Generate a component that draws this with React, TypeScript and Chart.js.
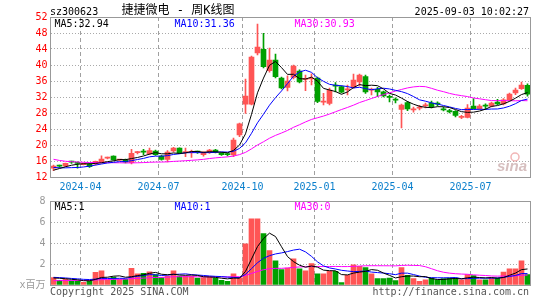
import React, { useEffect, useRef } from "react";
import { Chart, registerables } from "chart.js";

Chart.register(...registerables);

// ---------- data ----------
const weeks = [
  "2024-03-01", "2024-03-08", "2024-03-15", "2024-03-22", "2024-03-29",
  "2024-04-03", "2024-04-12", "2024-04-19", "2024-04-26", "2024-04-30",
  "2024-05-10", "2024-05-17", "2024-05-24", "2024-05-31", "2024-06-07",
  "2024-06-14", "2024-06-21", "2024-06-28", "2024-07-05", "2024-07-12",
  "2024-07-19", "2024-07-26", "2024-08-02", "2024-08-09", "2024-08-16",
  "2024-08-23", "2024-08-30", "2024-09-06", "2024-09-13", "2024-09-20",
  "2024-09-27", "2024-09-30", "2024-10-11", "2024-10-18", "2024-10-25",
  "2024-11-01", "2024-11-08", "2024-11-15", "2024-11-22", "2024-11-29",
  "2024-12-06", "2024-12-13", "2024-12-20", "2024-12-27", "2025-01-03",
  "2025-01-10", "2025-01-17", "2025-01-24", "2025-01-27", "2025-02-07",
  "2025-02-14", "2025-02-21", "2025-02-28", "2025-03-07", "2025-03-14",
  "2025-03-21", "2025-03-28", "2025-04-03", "2025-04-11", "2025-04-18",
  "2025-04-25", "2025-04-30", "2025-05-09", "2025-05-16", "2025-05-23",
  "2025-05-30", "2025-06-06", "2025-06-13", "2025-06-20", "2025-06-27",
  "2025-07-04", "2025-07-11", "2025-07-18", "2025-07-25", "2025-08-01",
  "2025-08-08", "2025-08-15", "2025-08-22", "2025-08-29", "2025-09-03",
];

const opens = [
  14.2, 14.8, 14.75, 15.8, 15.5, 15.1, 15.25, 15.25, 15.6, 16.7,
  17.25, 16.2, 16.3, 15.6, 18.1, 18.3, 17.75, 18.5, 17.25, 16.4,
  18.5, 19.25, 18.1, 18.1, 18.3, 17.6, 18.1, 18.75, 18.0, 17.7,
  17.5, 22.5, 30.2, 30.2, 43.0, 43.9, 38.6, 41.2, 36.7, 34.4,
  36.9, 38.5, 36.4, 36.5, 36.75, 30.7, 30.4, 34.8, 34.6, 33.8,
  34.4, 35.8, 37.1, 33.7, 33.9, 33.3, 32.0, 31.3, 28.9, 30.6,
  28.8, 29.2, 29.8, 30.5, 30.3, 29.0, 28.6, 28.4, 26.9, 26.9,
  29.7, 29.1, 29.8, 29.7, 30.75, 30.3, 31.3, 33.0, 34.1, 34.9,
];
const highs = [
  15.0, 15.0, 15.5, 16.0, 15.8, 15.5, 15.4, 16.0, 17.3, 17.0,
  17.3, 16.4, 16.5, 18.9, 18.4, 18.9, 19.2, 18.7, 17.4, 18.6,
  19.4, 19.3, 19.25, 18.75, 18.5, 18.3, 18.9, 18.9, 18.1, 17.9,
  21.7, 25.5, 36.5, 42.2, 50.25, 47.9, 44.2, 42.75, 37.0, 37.3,
  40.0, 38.8, 37.5, 37.8, 37.0, 32.9, 34.2, 35.6, 34.8, 35.0,
  37.75, 37.75, 37.5, 34.2, 34.4, 33.5, 32.5, 31.8, 30.2, 30.9,
  29.5, 29.9, 30.5, 31.0, 30.8, 29.5, 28.9, 28.6, 27.4, 30.1,
  31.6, 30.1, 30.3, 30.7, 31.4, 31.6, 33.0, 34.2, 35.75, 35.3,
];
const lows = [
  13.6, 14.4, 14.6, 15.4, 14.2, 15.0, 14.4, 15.0, 15.5, 16.5,
  16.2, 16.0, 15.5, 15.3, 17.8, 17.6, 17.6, 17.4, 16.2, 15.8,
  18.3, 17.9, 17.1, 16.9, 17.9, 17.2, 17.9, 18.0, 17.4, 17.3,
  17.1, 22.1, 27.9, 30.0, 42.5, 39.3, 38.2, 36.8, 34.0, 33.5,
  36.5, 35.5, 33.6, 35.0, 30.6, 30.0, 30.0, 33.3, 33.0, 32.5,
  34.2, 34.75, 32.9, 32.5, 32.1, 32.0, 30.8, 30.5, 24.3, 28.6,
  28.2, 28.8, 29.3, 29.3, 29.8, 28.5, 28.0, 27.0, 26.6, 26.8,
  29.0, 28.9, 28.9, 29.5, 30.1, 30.0, 31.0, 32.6, 33.9, 32.2,
];
const closes = [
  14.7, 14.7, 15.4, 15.7, 15.4, 15.4, 14.6, 15.9, 16.5, 16.85,
  16.3, 16.3, 15.7, 17.9, 18.2, 18.2, 18.6, 17.6, 16.4, 18.2,
  19.25, 18.0, 18.25, 18.2, 18.2, 18.2, 18.7, 18.2, 17.6, 17.6,
  21.2, 25.3, 32.25, 42.0, 44.5, 39.6, 41.25, 37.1, 34.3, 36.0,
  39.75, 35.8, 36.6, 36.7, 30.9, 30.8, 33.75, 34.7, 33.2, 33.9,
  36.25, 37.5, 33.3, 33.8, 33.3, 32.25, 31.9, 31.2, 30.0, 29.0,
  28.9, 29.3, 29.9, 29.6, 30.2, 28.8, 28.3, 27.4, 27.0, 29.25,
  29.1, 29.7, 29.7, 30.5, 30.3, 31.3, 32.7, 33.75, 35.0, 32.7,
];
// volume, millions (x百万)
const volumes = [
  0.7, 0.45, 0.55, 0.4, 0.4, 0.25, 0.4, 1.2, 1.36, 0.5,
  0.75, 0.55, 0.55, 1.58, 1.07, 1.1, 1.25, 1.0, 0.7, 0.85,
  1.36, 0.85, 0.85, 0.85, 0.67, 0.7, 0.75, 0.67, 0.45, 0.35,
  1.07, 0.7, 3.93, 6.3, 6.3, 4.89, 3.27, 2.31, 1.46, 1.6,
  2.5, 1.55, 1.36, 2.03, 1.07, 1.07, 1.3, 1.3, 0.22, 0.92,
  1.93, 1.77, 1.65, 1.07, 0.6, 0.6, 0.67, 0.42, 1.65, 0.92,
  0.6, 0.35, 0.5, 0.67, 0.5, 0.6, 0.67, 0.67, 0.5, 1.0,
  0.89, 0.5, 0.5, 0.67, 0.67, 1.23, 1.55, 1.55, 2.31, 1.0,
];
// estimated weeks before the visible window (only used to warm up the moving averages)
const priorCloses = [
  23.5, 21.6, 19.0, 18.0, 17.2, 16.5, 16.2, 16.8, 17.2, 16.9,
  16.5, 17.0, 17.5, 17.2, 16.8, 16.4, 16.0, 16.3, 16.5, 16.0,
  15.6, 15.5, 15.2, 15.0, 14.1, 12.6, 13.2, 13.8, 14.2,
];
const priorVolumes = [
  0.3, 0.25, 0.2, 0.3, 0.25, 0.2, 0.22, 0.3, 0.28, 0.2,
  0.25, 0.22, 0.2, 0.3, 0.25, 0.22, 0.25, 0.28, 0.3, 0.23,
  0.7, 0.9, 0.85, 0.8, 0.7, 0.6, 0.75, 0.7, 0.6,
];

const maPeriods = [5, 10, 30];
const priceMaLabels = ["MA5:32.94", "MA10:31.36", "MA30:30.93"];
const volMaLabels = ["MA5:1", "MA10:1", "MA30:0"];
const priceAxis = { min: 12, max: 52, step: 4 };
const volAxis = { min: 0, max: 8, step: 2 };
const stockCode = "sz300623";
const titleText = "捷捷微电 - 周K线图";
const timeText = "2025-09-03 10:02:27";
const copyrightText = "Copyright 2025 SINA.COM";
const urlText = "http://finance.sina.com.cn";
const volUnit = "x百万";

// ---------- styles ----------
const RED = "#ff5555";
const GREEN = "#00a000";
const MA_COLORS = ["#000000", "#0000ff", "#ff00ff"];
const GRID = "#aaaaaa";
const VGRID = "#a0a0a0";
const FRAME = "#999999";
const MONO = "'DejaVu Sans Mono', 'Liberation Mono', monospace";
const MONO_CJK = "'DejaVu Sans Mono', 'Noto Sans CJK SC', monospace";

function movingAverage(prior: number[], values: number[], n: number): number[] {
  const all = prior.concat(values);
  const off = prior.length;
  return values.map((_, i) => {
    const end = off + i;
    let s = 0;
    for (let k = end - n + 1; k <= end; k++) s += all[k];
    return +(s / n).toFixed(3);
  });
}

const quarterStart = weeks.map((d, i) => {
  if (i === 0) return false;
  const m = d.slice(5, 7);
  return m !== weeks[i - 1].slice(5, 7) && ["01", "04", "07", "10"].includes(m);
});

const candleColors = closes.map((c, i) => (c >= opens[i] ? RED : GREEN));

function xScale(showLabels: boolean) {
  return {
    type: "category",
    offset: true,
    grid: {
      offset: true,
      drawTicks: false,
      lineWidth: 1,
      color: (ctx: any) => (quarterStart[ctx.index] ? VGRID : "rgba(0,0,0,0)"),
    },
    border: { display: false, dash: [4, 3] },
    ticks: {
      display: showLabels,
      autoSkip: false,
      maxRotation: 0,
      minRotation: 0,
      color: "#0a7fcc",
      font: { family: MONO, size: 10 },
      padding: 4,
      labelOffset: -3,
      callback: (_v: any, i: number) => (quarterStart[i] ? weeks[i].slice(0, 7) : ""),
    },
    afterFit: (s: any) => {
      s.height = showLabels ? 20 : 0;
    },
  };
}

function drawFrame(ctx: CanvasRenderingContext2D, a: any) {
  ctx.strokeStyle = FRAME;
  ctx.lineWidth = 1;
  ctx.setLineDash([]);
  const l = Math.floor(a.left) + 0.5;
  const t = Math.floor(a.top) + 0.5;
  const r = Math.floor(a.right) + 0.5;
  const b = Math.floor(a.bottom) + 0.5;
  ctx.strokeRect(l, t, r - l, b - t);
}

function drawLegend(ctx: CanvasRenderingContext2D, a: any, labels: string[], dy: number) {
  ctx.font = `10px ${MONO}`;
  ctx.textAlign = "left";
  ctx.textBaseline = "alphabetic";
  labels.forEach((t, k) => {
    ctx.fillStyle = MA_COLORS[k];
    ctx.fillText(t, a.left + 4 + 120 * k, a.top + dy);
  });
}

export default function App() {
  const priceRef = useRef<HTMLCanvasElement | null>(null);
  const volRef = useRef<HTMLCanvasElement | null>(null);

  useEffect(() => {
    const pc = priceRef.current;
    const vc = volRef.current;
    if (!pc || !vc) return;

    const priceMAs = maPeriods.map((n) => movingAverage(priorCloses, closes, n));
    const volMAs = maPeriods.map((n) => movingAverage(priorVolumes, volumes, n));

    const lineSet = (label: string, data: number[], k: number) => ({
      type: "line",
      label,
      data,
      borderColor: MA_COLORS[k],
      borderWidth: 1,
      pointRadius: 0,
      tension: 0,
      fill: false,
      order: k,
    });

    const pricePlugin = {
      id: "priceDecor",
      afterDraw(chart: any) {
        const { ctx, chartArea: a } = chart;
        ctx.save();
        drawFrame(ctx, a);
        drawLegend(ctx, a, priceMaLabels, 10);
        // header
        ctx.fillStyle = "#000";
        ctx.font = `10px ${MONO}`;
        ctx.textAlign = "left";
        ctx.fillText(stockCode, 50, 15);
        ctx.textAlign = "right";
        ctx.fillText(timeText, 529, 15);
        ctx.font = `12px ${MONO_CJK}`;
        ctx.textAlign = "center";
        ctx.fillText(titleText, 178, 14);
        // watermark
        ctx.fillStyle = "rgba(200,170,170,0.75)";
        ctx.font = "italic bold 15px 'Liberation Sans', sans-serif";
        ctx.textAlign = "left";
        ctx.fillText("sina", 497, 171);
        ctx.strokeStyle = "rgba(230,120,120,0.55)";
        ctx.lineWidth = 1.5;
        ctx.beginPath();
        ctx.arc(515, 157, 4, 0, Math.PI * 2);
        ctx.stroke();
        ctx.restore();
      },
    };

    const volPlugin = {
      id: "volDecor",
      afterDraw(chart: any) {
        const { ctx, chartArea: a } = chart;
        ctx.save();
        drawFrame(ctx, a);
        drawLegend(ctx, a, volMaLabels, 8.5);
        ctx.fillStyle = "#555";
        ctx.font = `10px ${MONO}`;
        ctx.textAlign = "left";
        ctx.textBaseline = "alphabetic";
        ctx.fillText(copyrightText, 50, 294.5);
        ctx.textAlign = "right";
        ctx.fillText(urlText, 529, 294.5);
        ctx.restore();
      },
    };

    const priceChart = new Chart(pc, {
      type: "bar",
      data: {
        labels: weeks,
        datasets: [
          lineSet("MA5", priceMAs[0], 0),
          lineSet("MA10", priceMAs[1], 1),
          lineSet("MA30", priceMAs[2], 2),
          {
            type: "bar",
            label: "body",
            data: opens.map((o, i) => [Math.min(o, closes[i]), Math.max(o, closes[i])]),
            backgroundColor: candleColors,
            borderWidth: 0,
            barThickness: 5,
            minBarLength: 1,
            grouped: false,
            order: 3,
          },
          {
            type: "bar",
            label: "wick",
            data: lows.map((l, i) => [l, highs[i]]),
            backgroundColor: candleColors,
            borderWidth: 0,
            barThickness: 1,
            grouped: false,
            order: 4,
          },
        ] as any,
      },
      options: {
        animation: false,
        responsive: false,
        events: [],
        layout: { padding: { left: 0, top: 17, right: 14.5, bottom: 103 } },
        plugins: { legend: { display: false }, tooltip: { enabled: false } },
        scales: {
          x: xScale(true) as any,
          y: {
            min: priceAxis.min,
            max: priceAxis.max,
            ticks: {
              stepSize: priceAxis.step,
              color: "#ff0000",
              font: { family: MONO, size: 10 },
              padding: 3,
            },
            grid: { color: GRID, drawTicks: false, lineWidth: 1 },
            border: { display: false, dash: [1, 2] },
            afterFit: (s: any) => {
              s.width = 50.5;
            },
          } as any,
        },
      },
      plugins: [pricePlugin],
    } as any);

    const volChart = new Chart(vc, {
      type: "bar",
      data: {
        labels: weeks,
        datasets: [
          lineSet("MA5", volMAs[0], 0),
          lineSet("MA10", volMAs[1], 1),
          lineSet("MA30", volMAs[2], 2),
          {
            type: "bar",
            label: "volume",
            data: volumes,
            backgroundColor: candleColors,
            borderWidth: 0,
            barThickness: 5,
            grouped: false,
            order: 3,
          },
        ] as any,
      },
      options: {
        animation: false,
        responsive: false,
        events: [],
        layout: { padding: { left: 0, top: 201, right: 14.5, bottom: 15 } },
        plugins: { legend: { display: false }, tooltip: { enabled: false } },
        scales: {
          x: xScale(false) as any,
          y: {
            min: volAxis.min,
            max: volAxis.max,
            ticks: {
              stepSize: volAxis.step,
              color: "#999999",
              font: { family: MONO_CJK, size: 10 },
              padding: 5,
              callback: (v: any) => (Number(v) === 0 ? volUnit : String(v)),
            },
            grid: { color: GRID, drawTicks: false, lineWidth: 1 },
            border: { display: false, dash: [1, 2] },
            afterFit: (s: any) => {
              s.width = 50.5;
            },
          } as any,
        },
      },
      plugins: [volPlugin],
    } as any);

    return () => {
      priceChart.destroy();
      volChart.destroy();
    };
  }, []);

  return (
    <div
      style={{
        position: "absolute",
        left: 0,
        top: 0,
        width: 545,
        height: 300,
        background: "#ffffff",
        overflow: "hidden",
      }}
    >
      <canvas
        ref={priceRef}
        width={545}
        height={300}
        style={{ position: "absolute", left: 0, top: 0, width: 545, height: 300 }}
      />
      <canvas
        ref={volRef}
        width={545}
        height={300}
        style={{ position: "absolute", left: 0, top: 0, width: 545, height: 300 }}
      />
    </div>
  );
}
